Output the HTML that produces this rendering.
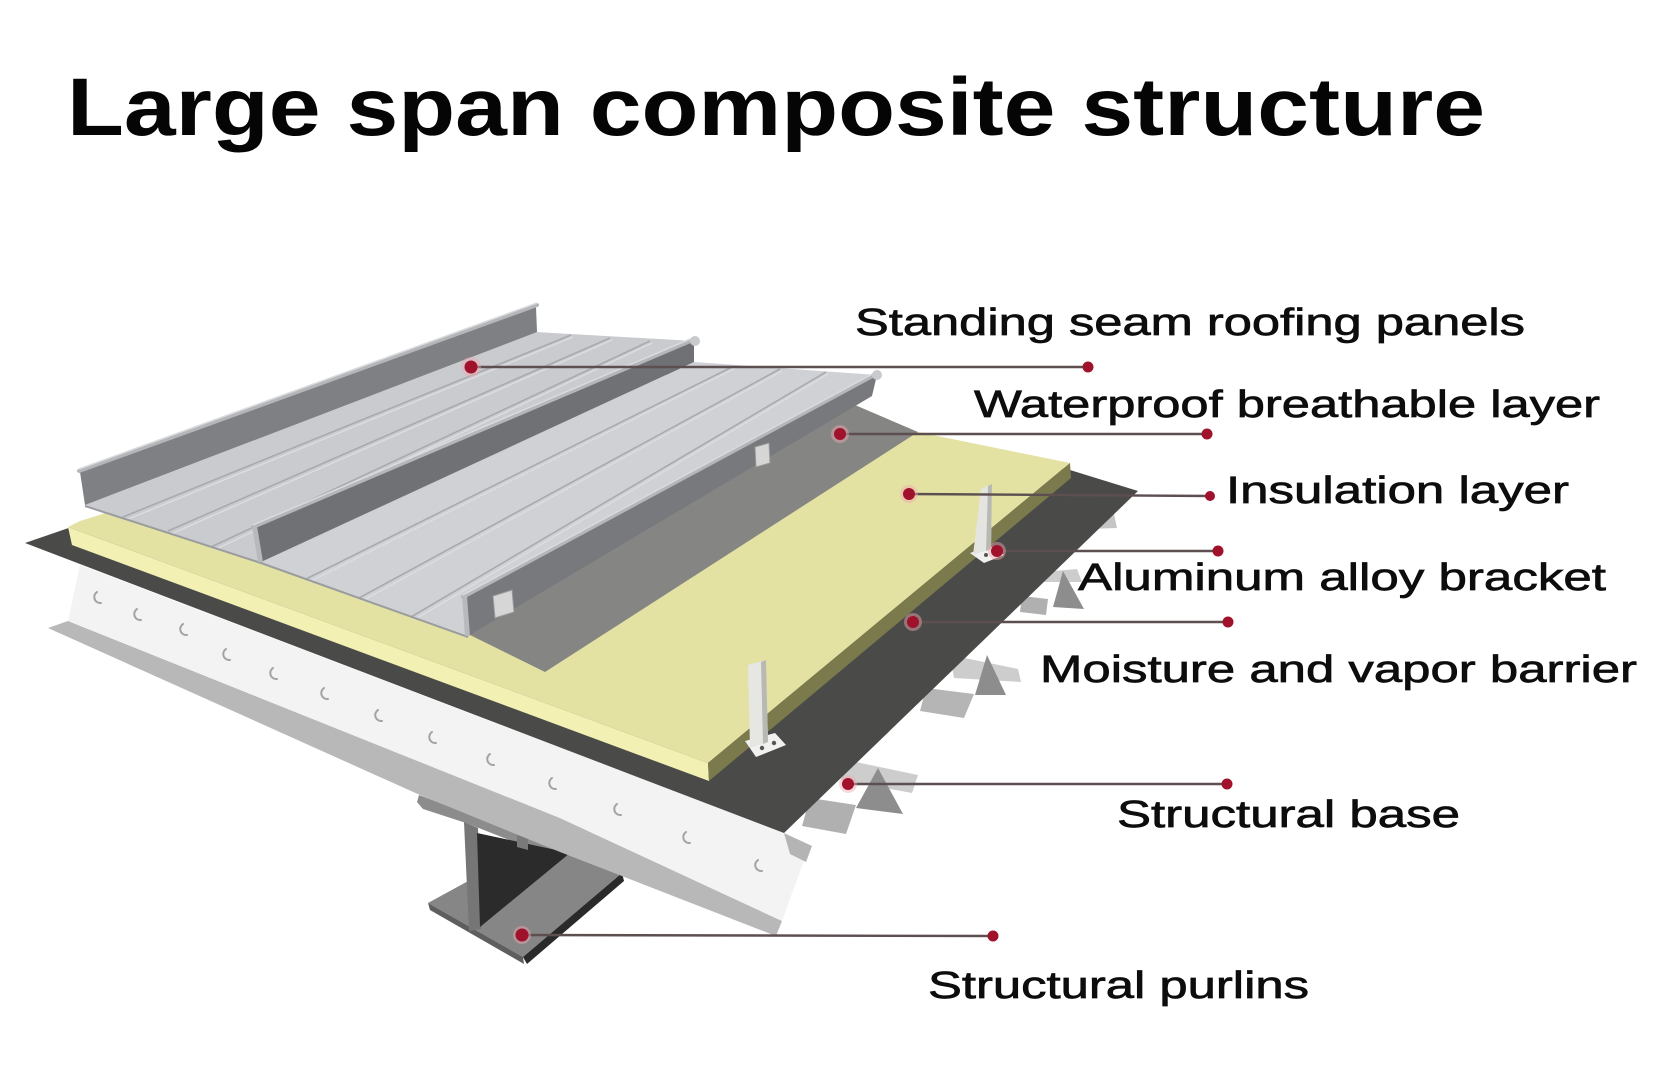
<!DOCTYPE html>
<html>
<head>
<meta charset="utf-8">
<style>
  html, body { margin: 0; padding: 0; background: #ffffff; }
  body { width: 1661px; height: 1080px; overflow: hidden; position: relative; }
  svg { position: absolute; left: 0; top: 0; }
  .lbl { font-family: "Liberation Sans", Arial, sans-serif; font-size: 38px; fill: #0d0d0d; stroke: #0d0d0d; stroke-width: 0.7px; }
  .ttl { font-family: "Liberation Sans", Arial, sans-serif; font-size: 82px; font-weight: bold; fill: #050505; }
</style>
</head>
<body>
<svg width="1661" height="1080" viewBox="0 0 1661 1080" xmlns="http://www.w3.org/2000/svg">
  <rect x="0" y="0" width="1661" height="1080" fill="#ffffff"/>

  <!-- Title -->
  <text class="ttl" x="67" y="135" textLength="1418" lengthAdjust="spacingAndGlyphs">Large span composite structure</text>

  <!-- ===== Purlin (I-beam) ===== -->
  <polygon points="419,795 560,848 560,860 466,823 423,809 417,802" fill="#8c8c8c"/>
  <polygon points="428,903 470,880 570,853 622,873 523,957" fill="#868686"/>
  <polygon points="428,903 523,957 524,964 430,910" fill="#5e5e5e"/>
  <polygon points="523,957 622,873 624,881 527,964" fill="#2a2a2a"/>
  <polygon points="464,822 478,828 481,929 469,931" fill="#767676"/>
  <polygon points="477,833 570,853 480,927" fill="#2b2b2b"/>
  <polygon points="517,835 528,838 528,850 517,847" fill="#7a7a7a"/>

  <!-- ===== Structural base (deck) ===== -->
  <polygon points="68,621 560,818 782,921 776,936 560,852 420,795 48,628" fill="#b8b8b8"/>
  <polygon points="80,565 784,833 806,855 782,921 560,818 68,621" fill="#f3f3f3"/>
  <g fill="none" stroke="#a3a3a3" stroke-width="2" stroke-linecap="round">
    <path d="M97,592 a6,6 0 0,0 4,11"/>
    <path d="M137,609 a6,6 0 0,0 4,11"/>
    <path d="M183,624 a6,6 0 0,0 4,11"/>
    <path d="M226,649 a6,6 0 0,0 4,11"/>
    <path d="M273,668 a6,6 0 0,0 4,11"/>
    <path d="M324,688 a6,6 0 0,0 4,11"/>
    <path d="M378,710 a6,6 0 0,0 4,11"/>
    <path d="M432,732 a6,6 0 0,0 4,11"/>
    <path d="M490,754 a6,6 0 0,0 4,11"/>
    <path d="M552,778 a6,6 0 0,0 4,11"/>
    <path d="M617,804 a6,6 0 0,0 4,11"/>
    <path d="M686,832 a6,6 0 0,0 4,11"/>
    <path d="M758,860 a6,6 0 0,0 4,11"/>
  </g>

  <!-- deck teeth along right edge -->
  <polygon points="784,833 812,846 806,862 790,854" fill="#b4b4b4"/>
  <polygon points="810,798 856,805 846,834 802,826" fill="#b0b0b0"/>
  <polygon points="846,760 918,775 912,793 841,780" fill="#cdcdcd"/>
  <polygon points="878,768 903,814 856,808" fill="#8d8d8d"/>
  <polygon points="926,688 974,694 964,718 920,711" fill="#b5b5b5"/>
  <polygon points="950,655 1018,669 1021,682 954,678" fill="#cdcdcd"/>
  <polygon points="987,655 1006,695 975,695" fill="#8d8d8d"/>
  <polygon points="1022,596 1048,599 1046,615 1020,612" fill="#b0b0b0"/>
  <polygon points="1041,572 1077,569 1082,582 1043,582" fill="#cdcdcd"/>
  <polygon points="1063,571 1084,609 1053,607" fill="#8d8d8d"/>
  <polygon points="1085,519 1114,514 1117,528 1088,529" fill="#c5c5c5"/>

  <!-- ===== Moisture & vapor barrier (dark) ===== -->
  <polygon points="25,543 600,345 918,440 1070,470 1138,491 784,833" fill="#4a4b49"/>

  <!-- ===== Insulation ===== -->
  <polygon points="68,527 708,763 1070,463 918,432 600,360 80,521" fill="#e4e2a3"/>
  <polygon points="68,527 708,763 709,781 72,545" fill="#f3f0b4"/>
  <polygon points="708,763 1070,463 1071,478 709,781" fill="#7b7a4d"/>

  <!-- ===== Waterproof breathable layer ===== -->
  <polygon points="468,634 855,405 918,432 545,672" fill="#858583"/>

  <!-- ===== Brackets ===== -->
  <polygon points="970,553 990,546 1004,555 984,563" fill="#f1f1ef"/>
  <polygon points="981,489 992,484 991,549 973,555" fill="#e4e4e0"/>
  <polygon points="988,486 992,484 991,549 986,551" fill="#b9b9b4"/>
  <circle cx="986" cy="555" r="2" fill="#555"/>
  <polygon points="745,741 775,733 786,745 756,757" fill="#f1f1ef"/>
  <polygon points="748,665 766,660 768,742 750,748" fill="#e6e6e2"/>
  <polygon points="761,662 766,660 768,742 763,744" fill="#b9b9b4"/>
  <circle cx="762" cy="748" r="2.2" fill="#555"/>
  <circle cx="774" cy="743" r="2.2" fill="#555"/>

  <!-- ===== Standing seam panels ===== -->
  <polygon points="85,505 536,332 694,341 254,528 261,562" fill="#c9cbcf"/>
  <polygon points="261,562 694,362 877,375 464,598 468,636" fill="#cfd1d5"/>

  <g stroke="#a8aaae" stroke-width="1.6" fill="none">
    <line x1="123" y1="517" x2="571" y2="335"/>
    <line x1="168" y1="531" x2="610" y2="338"/>
    <line x1="211" y1="547" x2="650" y2="341"/>
    <line x1="306" y1="579" x2="734" y2="366"/>
    <line x1="359" y1="598" x2="780" y2="369"/>
    <line x1="411" y1="617" x2="826" y2="372"/>
  </g>
  <g stroke="#dcdde0" stroke-width="1.4" fill="none">
    <line x1="126" y1="520" x2="573" y2="337"/>
    <line x1="171" y1="534" x2="612" y2="340"/>
    <line x1="214" y1="550" x2="652" y2="343"/>
    <line x1="309" y1="582" x2="736" y2="368"/>
    <line x1="362" y1="601" x2="782" y2="371"/>
    <line x1="414" y1="620" x2="828" y2="374"/>
  </g>

  <polyline points="85,506 261,563 468,637" fill="none" stroke="#9a9ca0" stroke-width="2"/>

  <polygon points="80,472 536,307 537,332 85,505" fill="#7e8084"/>
  <polygon points="254,528 694,341 694,362 261,562" fill="#6f7175"/>
  <polygon points="464,598 877,375 872,396 468,636" fill="#77797d"/>

  <polygon points="493,596 512,590 514,612 495,618" fill="#d6d6d6" stroke="#9a9a9a" stroke-width="1"/>
  <polygon points="755,447 769,443 770,463 756,467" fill="#d6d6d6" stroke="#9a9a9a" stroke-width="1"/>

  <g stroke="#b4b6b9" stroke-width="4" stroke-linecap="round" fill="none">
    <line x1="79" y1="471" x2="537" y2="305"/>
    <line x1="253" y1="527" x2="695" y2="339"/>
    <line x1="463" y1="597" x2="878" y2="373"/>
  </g>
  <g stroke="#d9dadc" stroke-width="1.5" fill="none">
    <line x1="79" y1="469" x2="537" y2="303"/>
    <line x1="253" y1="525" x2="695" y2="337"/>
    <line x1="463" y1="595" x2="878" y2="371"/>
  </g>
  <circle cx="695" cy="341" r="5" fill="#c9cacd"/>
  <circle cx="877" cy="375" r="5" fill="#c9cacd"/>
  <polygon points="252,526 257,526 263,562 258,562" fill="#b7b9bc"/>
  <polygon points="462,596 467,596 470,636 465,636" fill="#b7b9bc"/>

  <!-- ===== Leader lines ===== -->
  <g stroke="#5d4e50" stroke-width="2.4" fill="none">
    <line x1="471" y1="367" x2="1088" y2="367"/>
    <line x1="840" y1="434" x2="1207" y2="434"/>
    <line x1="909" y1="494" x2="1210" y2="496"/>
    <line x1="997" y1="551" x2="1218" y2="551"/>
    <line x1="913" y1="622" x2="1228" y2="622"/>
    <line x1="848" y1="784" x2="1227" y2="784"/>
    <line x1="522" y1="935" x2="993" y2="936"/>
  </g>
  <g fill="#f0a8b0" opacity="0.45">
    <circle cx="471" cy="367" r="10"/>
    <circle cx="840" cy="434" r="9"/>
    <circle cx="909" cy="494" r="9"/>
    <circle cx="997" cy="551" r="9"/>
    <circle cx="913" cy="622" r="9"/>
    <circle cx="848" cy="784" r="9"/>
    <circle cx="522" cy="935" r="9"/>
  </g>
  <g fill="#a0112b">
    <circle cx="471" cy="367" r="6.5"/>
    <circle cx="1088" cy="367" r="5.5"/>
    <circle cx="840" cy="434" r="6"/>
    <circle cx="1207" cy="434" r="5.5"/>
    <circle cx="909" cy="494" r="6"/>
    <circle cx="1210" cy="496" r="5"/>
    <circle cx="997" cy="551" r="6"/>
    <circle cx="1218" cy="551" r="5.5"/>
    <circle cx="913" cy="622" r="6"/>
    <circle cx="1228" cy="622" r="5.5"/>
    <circle cx="848" cy="784" r="6"/>
    <circle cx="1227" cy="784" r="5.5"/>
    <circle cx="522" cy="935" r="6.5"/>
    <circle cx="993" cy="936" r="5.5"/>
  </g>

  <!-- ===== Labels ===== -->
  <text class="lbl" x="855" y="335" textLength="670" lengthAdjust="spacingAndGlyphs">Standing seam roofing panels</text>
  <text class="lbl" x="974" y="417" textLength="626" lengthAdjust="spacingAndGlyphs">Waterproof breathable layer</text>
  <text class="lbl" x="1226" y="503" textLength="343" lengthAdjust="spacingAndGlyphs">Insulation layer</text>
  <text class="lbl" x="1078" y="590" textLength="528" lengthAdjust="spacingAndGlyphs">Aluminum alloy bracket</text>
  <text class="lbl" x="1040" y="682" textLength="597" lengthAdjust="spacingAndGlyphs">Moisture and vapor barrier</text>
  <text class="lbl" x="1117" y="827" textLength="343" lengthAdjust="spacingAndGlyphs">Structural base</text>
  <text class="lbl" x="928" y="998" textLength="381" lengthAdjust="spacingAndGlyphs">Structural purlins</text>
</svg>
</body>
</html>
